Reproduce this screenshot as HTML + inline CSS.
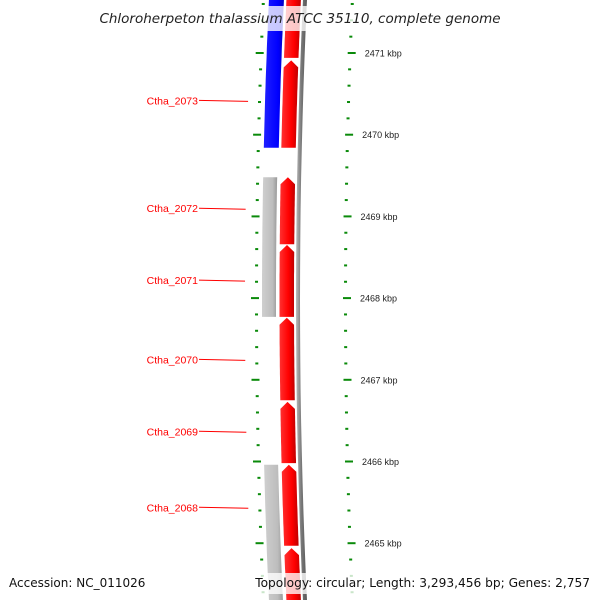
<!DOCTYPE html>
<html><head><meta charset="utf-8"><style>
html,body{margin:0;padding:0;background:#fff;}
svg{display:block;font-family:"Liberation Sans","DejaVu Sans",sans-serif;}
</style></head><body>
<svg id="chart" width="600" height="600" viewBox="0 0 600 600" xmlns="http://www.w3.org/2000/svg">
<defs>
<linearGradient id="gRed" x1="0" x2="1" y1="0" y2="0"><stop offset="0" stop-color="#ff3030"/><stop offset="0.6" stop-color="#ff0000"/><stop offset="1" stop-color="#c00000"/></linearGradient>
<linearGradient id="gBlue" x1="0" x2="1" y1="0" y2="0"><stop offset="0" stop-color="#2020ff"/><stop offset="0.7" stop-color="#0000ff"/><stop offset="1" stop-color="#0000c0"/></linearGradient>
<linearGradient id="gGray" x1="0" x2="1" y1="0" y2="0"><stop offset="0" stop-color="#cfcfcf"/><stop offset="0.7" stop-color="#bdbdbd"/><stop offset="1" stop-color="#999"/></linearGradient>
<linearGradient id="gLine" x1="0" x2="1" y1="0" y2="0"><stop offset="0" stop-color="#bbb"/><stop offset="0.5" stop-color="#777"/><stop offset="1" stop-color="#555"/></linearGradient>
</defs>
<g id="marks"></g>
<g id="overlay"></g>
</svg>
<script>
const tickKbp = [2471, 2470, 2469, 2468, 2467, 2466, 2465];
const blueStart = [2471.7];
const blueEnd = [2469.84];
const grayStart = [2469.48, 2465.96];
const grayEnd = [2467.77, 2464.2];
const redStart = [2471.7, 2470.91, 2469.48, 2468.65, 2467.76, 2466.73, 2465.96, 2464.94];
const redEnd = [2470.94, 2469.84, 2468.66, 2467.77, 2466.75, 2465.98, 2464.97, 2464.2];
const geneNames = ["Ctha_2073", "Ctha_2072", "Ctha_2071", "Ctha_2070", "Ctha_2069", "Ctha_2068"];
const geneKbp = [2470.42, 2469.10, 2468.22, 2467.25, 2466.37, 2465.44];

const NS = "http://www.w3.org/2000/svg";
function yOf(k){ return 53 + (2471 - k) * 81.7; }
function xOf(base, y){ return base + (y - 300) * (y - 300) / 13000; }
const marks = document.getElementById('marks');
function mk(tag, attrs, parent){ const e = document.createElementNS(NS, tag); for (const k in attrs) e.setAttribute(k, attrs[k]); (parent||marks).appendChild(e); return e; }

function bandPath(b0, b1, ya, yb, tipTop){
  const pts = [];
  const n = 20;
  const yTop = Math.min(ya, yb), yBot = Math.max(ya, yb);
  const startY = tipTop ? yTop + 7 : yTop;
  for (let i = 0; i <= n; i++){ const y = startY + (yBot - startY) * i / n; pts.push([xOf(b1, y), y]); }
  for (let i = n; i >= 0; i--){ const y = startY + (yBot - startY) * i / n; pts.push([xOf(b0, y), y]); }
  if (tipTop){ pts.push([xOf((b0 + b1) / 2, yTop), yTop]); }
  return 'M' + pts.map(p => p[0].toFixed(1) + ',' + p[1].toFixed(1)).join('L') + 'Z';
}

let e = mk('path', {d: bandPath(296, 300, -5, 605, false), fill: 'url(#gLine)'});



for (let i = 0; i < blueStart.length; i++){
  e = mk('path', {d: bandPath(262, 277, yOf(blueStart[i]), yOf(blueEnd[i]), false), fill: 'url(#gBlue)'});
  
  
}
for (let i = 0; i < grayStart.length; i++){
  e = mk('path', {d: bandPath(262, 276, yOf(grayStart[i]), yOf(grayEnd[i]), false), fill: 'url(#gGray)'});
  
  
}
for (let i = 0; i < redStart.length; i++){
  const ya = yOf(redStart[i]), yb = yOf(redEnd[i]);
  e = mk('path', {d: bandPath(279.5, 294, ya, yb, i > 0), fill: 'url(#gRed)'});
  
  
}

for (let t = 0; t < 60; t++){
  const k = 2472 - t * 0.2;
  const y = yOf(k);
  if (y < -5 || y > 605) continue;
  const major = Math.abs(k - Math.round(k)) < 0.01;
  const xl = xOf(255, y), xr = xOf(344, y);
  e = mk('rect', {x: major ? xl - 4 : xl, y: y - 1, width: major ? 8 : 3, height: 2, fill: '#0a8a0a'});
  
  
  e = mk('rect', {x: major ? xr - 1 : xr, y: y - 1, width: major ? 8 : 3, height: 2, fill: '#0a8a0a'});
  
  
}
for (let i = 0; i < tickKbp.length; i++){
  const y = yOf(tickKbp[i]);
  e = mk('text', {x: xOf(360, y), y: y + 3.5, 'font-size': 9, fill: '#222'});
  e.textContent = tickKbp[i] + ' kbp';
  
  
}
for (let i = 0; i < geneNames.length; i++){
  const y = yOf(geneKbp[i]);
  e = mk('line', {x1: 199, y1: y, x2: xOf(247, y) - 2, y2: y + 1, stroke: '#f00', 'stroke-width': 1});
  
  
  e = mk('text', {x: 198, y: y + 4, 'font-size': 10.5, fill: '#f00', 'text-anchor': 'end'});
  e.textContent = geneNames[i];
  
  
}

const ov = document.getElementById('overlay');
e = mk('rect', {x: 88, y: 6, width: 424, height: 25, fill: 'rgba(255,255,255,0.78)'}, ov);


e = mk('text', {x: 300, y: 23, 'font-size': 13.5, 'font-style': 'italic', fill: '#222', 'text-anchor': 'middle', 'font-family': '"DejaVu Sans", sans-serif'}, ov);
e.textContent = 'Chloroherpeton thalassium ATCC 35110, complete genome';


e = mk('rect', {x: 252, y: 573, width: 344, height: 21, fill: 'rgba(255,255,255,0.78)'}, ov);


e = mk('text', {x: 9, y: 587, 'font-size': 12, fill: '#111', 'font-family': '"DejaVu Sans", sans-serif'}, ov);
e.textContent = 'Accession: NC_011026';


e = mk('text', {x: 590, y: 587, 'font-size': 12.2, fill: '#111', 'text-anchor': 'end', 'font-family': '"DejaVu Sans", sans-serif'}, ov);
e.textContent = 'Topology: circular; Length: 3,293,456 bp; Genes: 2,757';


</script>
</body></html>
